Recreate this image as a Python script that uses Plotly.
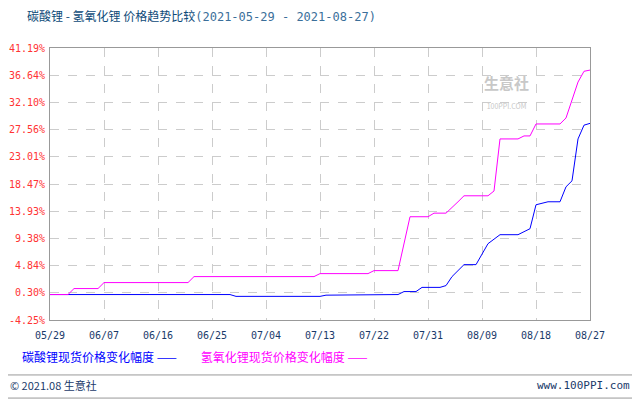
import plotly.graph_objects as go
import pandas as pd

# 碳酸锂 (blue) price change %, by date
li2co3_dates = ["2021-05-29", "2021-06-28", "2021-06-29", "2021-07-13", "2021-07-14", "2021-07-18",
                "2021-07-19", "2021-07-26", "2021-07-27", "2021-07-29", "2021-07-30", "2021-08-02",
                "2021-08-03", "2021-08-04", "2021-08-06", "2021-08-07", "2021-08-08", "2021-08-10",
                "2021-08-12", "2021-08-13", "2021-08-15", "2021-08-17", "2021-08-18", "2021-08-20",
                "2021-08-22", "2021-08-23", "2021-08-24", "2021-08-25", "2021-08-26", "2021-08-27"]
li2co3_vals = [0, 0, -0.3, -0.3, -0.1, -0.1, 0, 0, 0.5, 0.5, 1.2, 1.2,
               1.5, 3.0, 5.0, 5.0, 5.0, 8.5, 10.0, 10.0, 10.0, 11.0, 15.0, 15.5,
               15.5, 18.0, 19.0, 26.0, 28.3, 28.6]

# 氢氧化锂 (magenta) price change %
lioh_dates = ["2021-05-29", "2021-06-01", "2021-06-02", "2021-06-06", "2021-06-07", "2021-06-21",
              "2021-06-22", "2021-07-12", "2021-07-13", "2021-07-21", "2021-07-22", "2021-07-26",
              "2021-07-28", "2021-07-31", "2021-08-01", "2021-08-03", "2021-08-05", "2021-08-06",
              "2021-08-10", "2021-08-11", "2021-08-12", "2021-08-15", "2021-08-16", "2021-08-17",
              "2021-08-18", "2021-08-22", "2021-08-23", "2021-08-25", "2021-08-26", "2021-08-27"]
lioh_vals = [0, 0, 1.0, 1.0, 2.0, 2.0, 3.0, 3.0, 3.5, 3.5, 4.0, 4.0,
             13.0, 13.0, 13.6, 13.6, 15.5, 16.5, 16.5, 17.3, 26.0, 26.0, 26.5, 26.5,
             28.5, 28.5, 29.5, 35.5, 37.3, 37.5]

y_ticks = [-4.25, 0.30, 4.84, 9.38, 13.93, 18.47, 23.01, 27.56, 32.10, 36.64, 41.19]
x_ticks = pd.date_range("2021-05-29", "2021-08-27", freq="9D")

fig = go.Figure()
fig.add_trace(go.Scatter(x=li2co3_dates, y=li2co3_vals, mode="lines",
                         line=dict(color="#0000ff", width=1), name="碳酸锂现货价格变化幅度"))
fig.add_trace(go.Scatter(x=lioh_dates, y=lioh_vals, mode="lines",
                         line=dict(color="#ff00ff", width=1), name="氢氧化锂现货价格变化幅度"))

font = "Noto Sans CJK SC"
mono = "DejaVu Sans Mono"
# page body has an 8px margin, so the figure is a bit smaller and shifted
fig.update_layout(
    width=632, height=392, showlegend=False,
    margin=dict(l=42, r=50, t=40, b=80),
    paper_bgcolor="white", plot_bgcolor="white",
    font=dict(family=font, size=11),
    xaxis=dict(range=["2021-05-29", "2021-08-27"], tickvals=x_ticks,
               ticktext=[d.strftime("%m/%d") for d in x_ticks],
               tickfont=dict(color="#1a3a6a", size=10, family=mono), showgrid=True,
               gridcolor="#cccccc", griddash="dash", showline=True, mirror=True,
               linecolor="#999999", zeroline=False, ticks="", ticklabelstandoff=6,
               automargin=False),
    yaxis=dict(range=[-4.25, 41.19], tickvals=y_ticks,
               ticktext=[f"{v:.2f}%" for v in y_ticks],
               tickfont=dict(color="#ff3333", size=10, family=mono), showgrid=True,
               gridcolor="#cccccc", griddash="dash", showline=True, mirror=True,
               linecolor="#999999", zeroline=False, ticks="", ticklabelstandoff=2,
               automargin=False),
)

fig.add_annotation(xref="paper", yref="paper", x=-0.046, y=1.121, xanchor="left", yanchor="middle",
                   text="<span style='color:#0d4a78'>碳酸锂&nbsp;-&nbsp;氢氧化锂&nbsp;价格趋势比较</span><span style='color:#3b6f9a;font-family:DejaVu Sans Mono'>(2021-05-29 - 2021-08-27)</span>",
                   showarrow=False, font=dict(size=12, family=font))
# watermark
fig.add_annotation(xref="paper", yref="paper", x=0.89, y=0.92, text="<b>生意社</b><br><span style='font-size:7px'>100PPI.COM</span>",
                   showarrow=False, font=dict(size=15, color="#c8c8c8", family=font))
# legend
fig.add_annotation(xref="paper", yref="paper", x=-0.056, y=-0.136, xanchor="left", yanchor="middle", showarrow=False,
                   text="<span style='color:#0000ff'>碳酸锂现货价格变化幅度 ——</span>　　<span style='color:#ff00ff'>氢氧化锂现货价格变化幅度 ——</span>",
                   font=dict(size=12, family=font))
# footer
fig.add_shape(type="line", xref="paper", yref="paper", x0=-0.085, x1=1.085, y0=-0.202, y1=-0.202,
              line=dict(color="#999999", width=1))
fig.add_annotation(xref="paper", yref="paper", x=-0.078, y=-0.239, xanchor="left", yanchor="middle", showarrow=False,
                   text="© 2021.08 生意社", font=dict(size=11, color="#1a3a6a", family=font))
fig.add_annotation(xref="paper", yref="paper", x=1.078, y=-0.239, xanchor="right", yanchor="middle", showarrow=False,
                   text="www.100PPI.com", font=dict(size=11, color="#1a3a6a", family=mono))
fig.add_shape(type="rect", xref="paper", yref="paper", x0=-0.091, x1=1.089, y0=-0.287, y1=1.17,
              line=dict(color="#999999", width=1))

fig.write_html("out.html")
